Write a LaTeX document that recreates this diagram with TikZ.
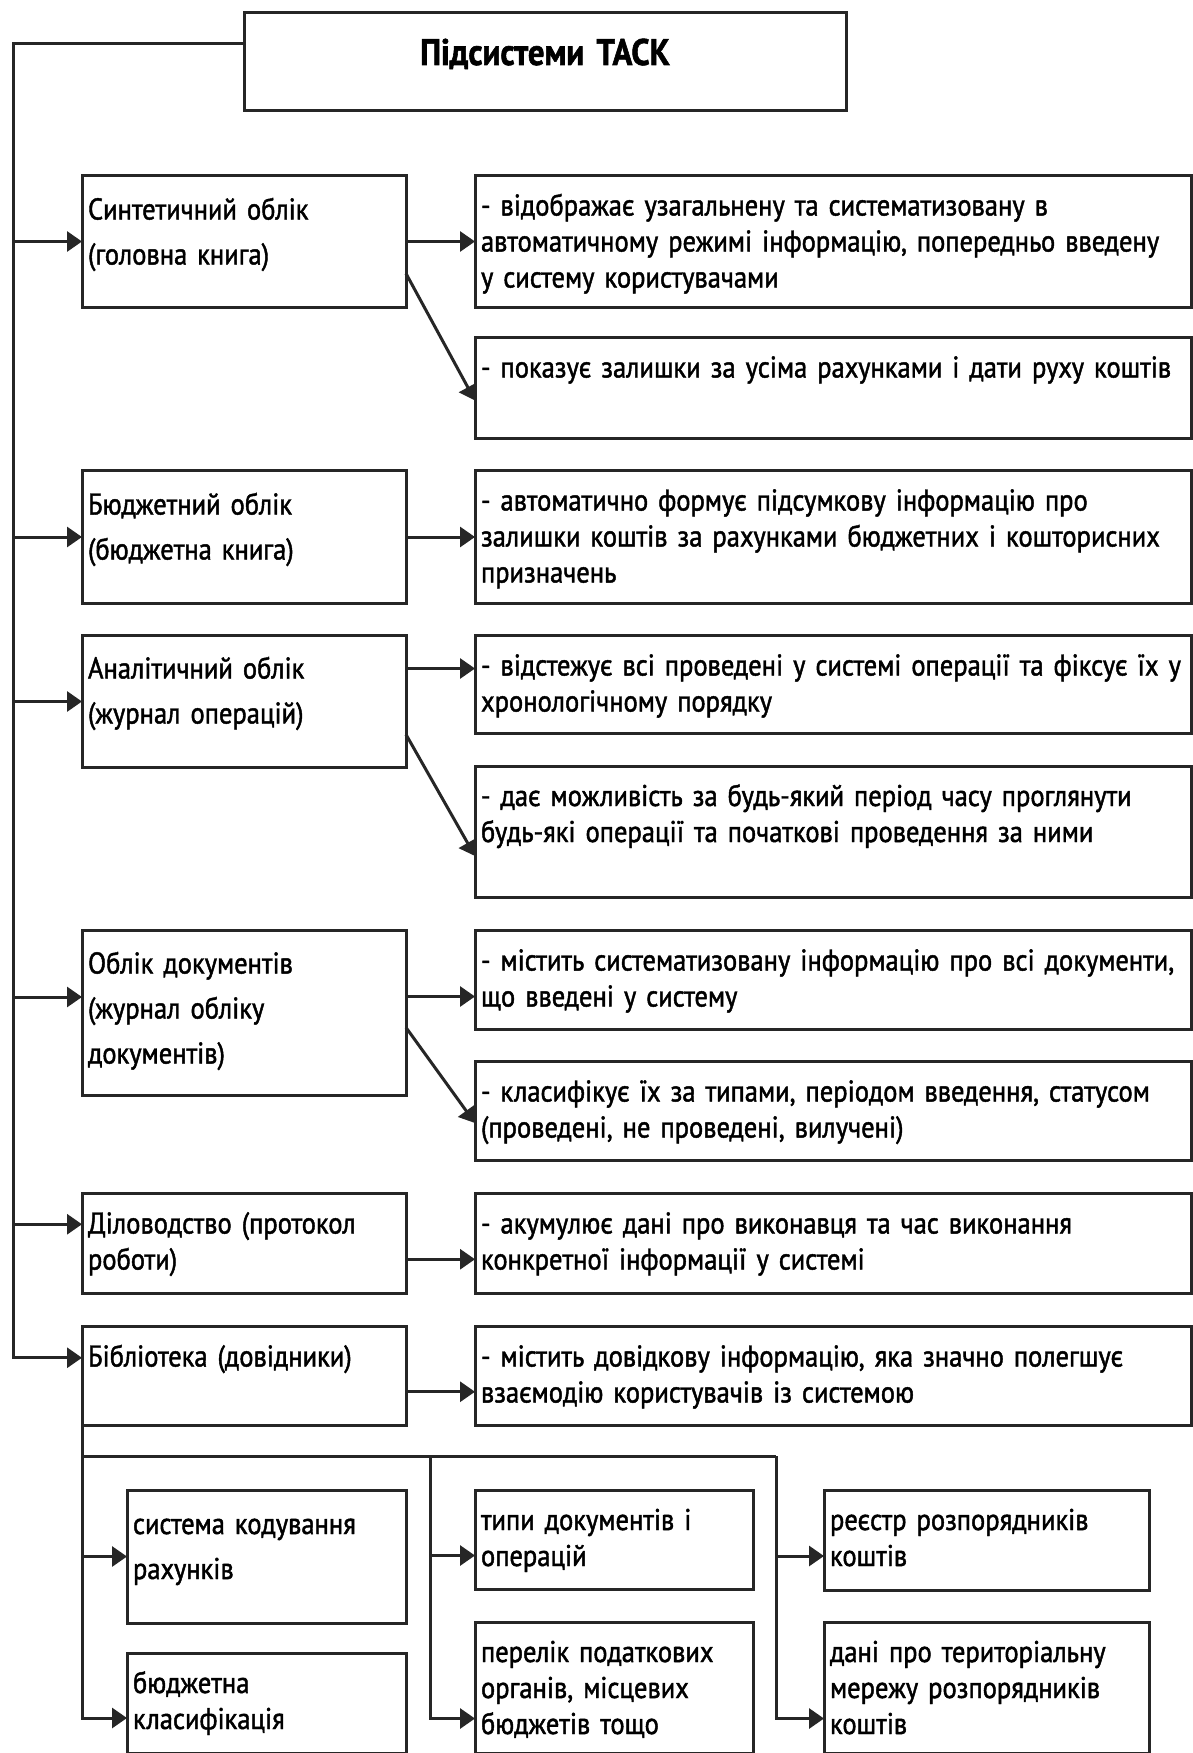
\documentclass[tikz,border=0pt]{standalone}
\usepackage{fontspec}
\setmainfont{PT Sans}[FakeStretch=0.885,WordSpace=0.7,FakeBold=1.5]
\usetikzlibrary{positioning,arrows.meta}

\tikzset{
  boxsize/.code n args={3}{%
    \pgfmathsetmacro\boxtw{#1-12}\pgfmathsetmacro\boxtd{#2-#3}%
    \edef\boxopts{\noexpand\tikzset{text width=\boxtw pt,text height=#3pt,text depth=\boxtd pt}}\boxopts},
  panel/.style={draw=black!85, line width=3pt, align=left, anchor=north west,
    inner xsep=6pt, inner ysep=0pt, outer sep=0pt,
    font=\fontsize{30}{36}\selectfont},
  wide/.style={font=\fontsize{30}{45}\selectfont},
  link/.style={draw=black!85, line width=3pt},
  arr/.style={link, -{Triangle[length=15pt,width=20pt]}},
}

\begin{document}
\begin{tikzpicture}[x=1pt,y=1pt]
  \fill[white] (0,0) rectangle (1193,-1753);
  \useasboundingbox (0,0) rectangle (1193,-1753);

  \node[panel,boxsize={602}{97}{52},align=center,
    font=\fontsize{37}{40}\selectfont\bfseries] (title) at (244,-13) {Підсистеми ТАСК};

  % subsystems
  \node[panel,wide,boxsize={324}{132}{44}] (syn) at (82,-175.5) {Синтетичний облік\\(головна книга)};
  \node[panel,boxsize={716}{132}{40},right=69pt of syn.north east,anchor=north west] (synA)
    {- відображає узагальнену та систематизовану в\\автоматичному режимі інформацію, попередньо введену\\у систему користувачами};
  \node[panel,boxsize={716}{101}{40},below=30pt of synA] (synB)
    {- показує залишки за усіма рахунками і дати руху коштів};

  \node[panel,wide,boxsize={324}{133}{44},below=163pt of syn] (bud) {Бюджетний облік\\(бюджетна книга)};
  \node[panel,boxsize={716}{133}{40},right=69pt of bud.north east,anchor=north west] (budA)
    {- автоматично формує підсумкову інформацію про\\залишки коштів за рахунками бюджетних і кошторисних\\призначень};

  \node[panel,wide,boxsize={324}{132}{43},below=32pt of bud] (ana) {Аналітичний облік\\(журнал операцій)};
  \node[panel,boxsize={716}{98}{40},right=69pt of ana.north east,anchor=north west] (anaA)
    {- відстежує всі проведені у системі операції та фіксує їх у\\хронологічному порядку};
  \node[panel,boxsize={716}{131}{40},below=32.5pt of anaA] (anaB)
    {- дає можливість за будь-який період часу проглянути\\будь-які операції та початкові проведення за ними};

  \node[panel,wide,boxsize={324}{165}{43},below=163pt of ana] (dok) {Облік документів\\(журнал обліку\\документів)};
  \node[panel,boxsize={716}{99}{40},right=69pt of dok.north east,anchor=north west] (dokA)
    {- містить систематизовану інформацію про всі документи,\\що введені у систему};
  \node[panel,boxsize={716}{98.5}{40},below=32pt of dokA] (dokB)
    {- класифікує їх за типами, періодом введення, статусом\\(проведені, не проведені, вилучені)};

  \node[panel,boxsize={324}{99.5}{40},below=98pt of dok] (dil) {Діловодство (протокол\\роботи)};
  \node[panel,boxsize={716}{99.5}{40},right=69pt of dil.north east,anchor=north west] (dilA)
    {- акумулює дані про виконавця та час виконання\\конкретної інформації у системі};

  \node[panel,boxsize={324}{98.5}{40},below=33.5pt of dil] (bib) {Бібліотека (довідники)};
  \node[panel,boxsize={716}{98.5}{40},right=69pt of bib.north east,anchor=north west] (bibA)
    {- містить довідкову інформацію, яка значно полегшує\\взаємодію користувачів із системою};

  % library contents
  \node[panel,wide,boxsize={279}{133}{44}] (kod) at (127,-1490) {система кодування\\рахунків};
  \node[panel,boxsize={279}{100}{40},below=30pt of kod] (kls) {бюджетна\\класифікація};
  \node[panel,boxsize={278}{99}{40},right=69pt of kod.north east,anchor=north west] (typ) {типи документів і\\операцій};
  \node[panel,boxsize={278}{131}{40},below=33pt of typ] (per) {перелік податкових\\органів, місцевих\\бюджетів тощо};
  \node[panel,boxsize={325}{100}{40},right=71pt of typ.north east,anchor=north west] (reg) {реєстр розпорядників\\коштів};
  \node[panel,boxsize={325}{131}{40},below=32pt of reg] (mer) {дані про територіальну\\мережу розпорядників\\коштів};

  % spine
  \coordinate (spine) at (13,-44);
  \coordinate (dokIn) at ([yshift=16pt]dok.west);
  \coordinate (dilIn) at ([yshift=19pt]dil.west);
  \coordinate (bibIn) at ([yshift=18pt]bib.west);
  \draw[arr] (title.west |- spine) -- (spine) -- (spine |- bibIn) -- (bibIn);
  \foreach \n in {syn,bud,ana,dokIn,dilIn}
    \draw[arr] (spine |- \n) -- (\n);

  % to descriptions
  \draw[arr] (syn) -- (synA);
  \draw[arr] (bud) -- (budA);
  \draw[arr] ([yshift=-33pt]ana.north east) -- ([yshift=-33pt]anaA.north west);
  \draw[arr] ([yshift=-66pt]dok.north east) -- ([yshift=-66pt]dokA.north west);
  \draw[arr] ([yshift=-16pt]dil.east) -- ([yshift=-16pt]dilA.west);
  \draw[arr] ([yshift=-16pt]bib.east) -- ([yshift=-16pt]bibA.west);
  \draw[arr] ([yshift=34pt]syn.south east) -- ([yshift=38pt]synB.south west);
  \draw[arr] ([yshift=33pt]ana.south east) -- ([yshift=41pt]anaB.south west);
  \draw[arr] ([yshift=68pt]dok.south east) -- ([yshift=37pt]dokB.south west);

  % library branches
  \coordinate (bus) at ([yshift=-31pt]bib.south west);
  \coordinate[xshift=-45pt] (bus2) at (bus -| typ.west);
  \coordinate[xshift=-48pt] (bus3) at (bus -| reg.west);
  \draw[link] (bus) -- (bus3);
  \draw[arr] (bib.south west) |- (kod);
  \draw[arr] (bib.south west) |- ([yshift=-15pt]kls.west);
  \draw[arr] (bus2) |- ([yshift=-16pt]typ.west);
  \draw[arr] (bus2) |- ([yshift=-31pt]per.west);
  \draw[arr] (bus3) |- ([yshift=-16pt]reg.west);
  \draw[arr] (bus3) |- ([yshift=-31pt]mer.west);
\end{tikzpicture}
\end{document}
